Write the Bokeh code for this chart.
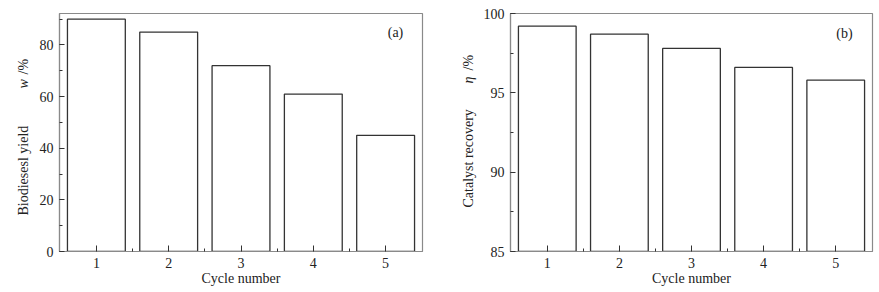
import math
from bokeh.plotting import figure
from bokeh.layouts import row
from bokeh.models import FixedTicker, SingleIntervalTicker, Label, Range1d
from bokeh.embed import file_html
from bokeh.resources import INLINE

cycles = [1, 2, 3, 4, 5]
yield_w = [90, 85, 72, 61, 45]
recovery_eta = [99.2, 98.7, 97.8, 96.6, 95.8]
x_major = [1, 2, 3, 4, 5]
x_minor = [1.5, 2.5, 3.5, 4.5]

FONT = "Liberation Serif"
FS = "14px"
AX = "#8a8a8a"
TXT = "#222222"
H = 292


def style(p, y_interval, y_minor):
    p.grid.visible = False
    p.outline_line_color = AX
    p.outline_line_width = 1.2
    for ax in (p.xaxis[0], p.yaxis[0]):
        ax.axis_line_color = AX
        ax.axis_line_width = 1.2
        ax.major_tick_line_color = "#333333"
        ax.minor_tick_line_color = "#333333"
        ax.major_tick_out = 0
        ax.minor_tick_out = 0
        ax.minor_tick_in = 3
        ax.major_label_text_font = FONT
        ax.major_label_text_font_size = FS
        ax.major_label_text_color = TXT
        ax.major_label_standoff = 6
    p.xaxis.major_tick_in = 6
    p.yaxis.major_tick_in = 5
    p.xaxis.ticker = FixedTicker(ticks=x_major, minor_ticks=x_minor)
    p.yaxis.ticker = SingleIntervalTicker(interval=y_interval, num_minor_ticks=y_minor)
    p.xaxis.axis_label = "Cycle number"
    p.xaxis.axis_label_text_font = FONT
    p.xaxis.axis_label_text_font_size = FS
    p.xaxis.axis_label_text_font_style = "normal"
    p.xaxis.axis_label_text_color = TXT
    p.xaxis.axis_label_standoff = 0


def slabel(p, txt, x, y, angle=0.0, italic=False, align="left"):
    p.add_layout(Label(x=x, y=y, x_units="screen", y_units="screen", text=txt,
                       angle=angle, text_font=FONT, text_font_size=FS,
                       text_font_style="italic" if italic else "normal",
                       text_color=TXT, text_align=align,
                       text_baseline="middle"))


def label_column(width, x, parts):
    f = figure(width=width, height=H, output_backend="svg", toolbar_location=None,
               x_range=Range1d(0, 1), y_range=Range1d(0, 1),
               x_axis_location=None, y_axis_location=None,
               min_border_left=0, min_border_right=0,
               min_border_top=13, min_border_bottom=41)
    f.outline_line_color = None
    f.grid.visible = False
    for txt, italic, y in parts:
        slabel(f, txt, x, y, angle=math.pi / 2, italic=italic)
    return f


# Panel (a)
la = label_column(34, 22.5, [("Biodiesesl yield", False, 36),
                             ("w", True, 163),
                             ("/%", False, 177)])
pa = figure(width=406, height=H, output_backend="svg", toolbar_location=None,
            x_range=Range1d(0.49, 5.51), y_range=Range1d(0, 92.2),
            min_border_left=25, min_border_right=18, min_border_top=13,
            min_border_bottom=41)
pa.vbar(x=cycles, top=yield_w, bottom=0, width=0.8, fill_color="white",
        line_color="#333333", line_width=1.3)
style(pa, 20, 2)
slabel(pa, "(a)", 336, 219, align="center")

# Panel (b)
lb = label_column(40, 28, [("Catalyst recovery", False, 44),
                           ("η", True, 168),
                           ("/%", False, 181)])
pb = figure(width=399, height=H, output_backend="svg", toolbar_location=None,
            x_range=Range1d(0.49, 5.51), y_range=Range1d(85, 100),
            min_border_left=30, min_border_right=7, min_border_top=13,
            min_border_bottom=41)
pb.vbar(x=cycles, top=recovery_eta, bottom=85, width=0.8, fill_color="white",
        line_color="#333333", line_width=1.3)
style(pb, 5, 2)
slabel(pb, "(b)", 334, 218, align="center")

layout = row(la, pa, lb, pb)
open("out.html", "w").write(file_html(layout, INLINE))
